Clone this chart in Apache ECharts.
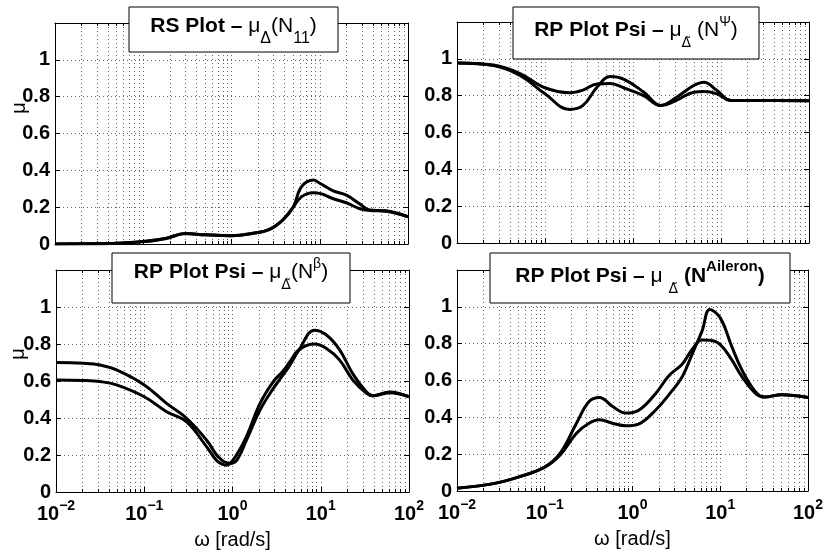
<!DOCTYPE html>
<html><head><meta charset="utf-8">
<script src="https://cdn.jsdelivr.net/npm/echarts@6/dist/echarts.min.js"></script>
<style>html,body{margin:0;padding:0;background:#fff}#c{width:826px;height:556px}</style>
</head><body><div id="c"></div>
<script>
// ---- data ----
const yTickValues = [0, 0.2, 0.4, 0.6, 0.8, 1];
const xTickExponents = [-2, -1, 0, 1, 2];

const rsOmega = [0.01,0.03,0.06,0.1,0.18,0.3,0.5,1,1.76,2.7,3.8,5,6.2,8.5,10,14,20,28,37,56,100];
const rsMuA   = [0,0.002,0.006,0.013,0.03,0.057,0.05,0.045,0.058,0.08,0.13,0.2,0.31,0.347,0.33,0.29,0.265,0.22,0.184,0.18,0.148];
const rsMuB   = [0,0.002,0.006,0.013,0.03,0.057,0.05,0.045,0.058,0.08,0.13,0.2,0.256,0.278,0.275,0.247,0.224,0.193,0.182,0.178,0.148];

const psiOmega = [0.01,0.026,0.052,0.1,0.19,0.27,0.39,0.55,0.78,1.32,2.06,3.1,4.9,6.4,9,13,28,100];
const psiMuA   = [0.978,0.964,0.91,0.81,0.725,0.747,0.846,0.904,0.89,0.82,0.747,0.79,0.855,0.873,0.828,0.774,0.774,0.772];
const psiMuB   = [0.978,0.966,0.92,0.843,0.816,0.83,0.864,0.866,0.843,0.80,0.747,0.774,0.819,0.823,0.81,0.774,0.774,0.772];

const betaOmega = [0.01,0.0204,0.0315,0.0485,0.1,0.179,0.3,0.51,0.66,0.77,0.84,0.93,1.11,1.44,2.05,2.9,3.7,4.4,5.7,8.5,11.5,16.3,23,33,39,60,100];
const betaMuA   = [0.70,0.696,0.687,0.66,0.579,0.479,0.40,0.28,0.20,0.17,0.16,0.155,0.17,0.28,0.443,0.56,0.63,0.68,0.77,0.875,0.85,0.77,0.64,0.54,0.52,0.537,0.515];
const betaMuB   = [0.606,0.603,0.597,0.579,0.515,0.434,0.38,0.244,0.17,0.15,0.145,0.152,0.2,0.30,0.479,0.597,0.651,0.70,0.77,0.80,0.777,0.714,0.606,0.533,0.52,0.54,0.515];

const ailOmega = [0.01,0.026,0.052,0.1,0.15,0.23,0.32,0.42,0.59,0.84,1.19,1.84,2.6,3.7,4.8,6.2,7.6,10,13.5,17.6,25,32,50,100];
const ailMuA   = [0.015,0.04,0.078,0.13,0.205,0.368,0.486,0.508,0.46,0.423,0.44,0.53,0.626,0.69,0.77,0.82,0.818,0.795,0.713,0.622,0.532,0.51,0.523,0.508];
const ailMuB   = [0.015,0.04,0.078,0.13,0.196,0.314,0.368,0.387,0.368,0.354,0.365,0.44,0.523,0.622,0.745,0.868,0.985,0.94,0.786,0.659,0.541,0.51,0.523,0.508];

const panels = [
  {omega: rsOmega, a: rsMuA, b: rsMuB},
  {omega: psiOmega, a: psiMuA, b: psiMuB},
  {omega: betaOmega, a: betaMuA, b: betaMuB},
  {omega: ailOmega, a: ailMuA, b: ailMuB}
];

// ---- layout / style ----
const FONT = '"Liberation Sans", Arial, Helvetica, sans-serif';
const grids = [
  {left: 55, top: 23, width: 353, height: 221},
  {left: 457, top: 22, width: 352, height: 221},
  {left: 56, top: 270, width: 353, height: 222},
  {left: 457, top: 270, width: 353, height: 221}
];
const dotted = {color: '#666', type: [1, 3], width: 1};
const blackLine = {color: '#000', width: 1};

const xAxes = [], yAxes = [], series = [];
grids.forEach((g, i) => {
  const showX = i >= 2;
  xAxes.push({
    type: 'log', logBase: 10, min: 0.01, max: 100, gridIndex: i, position: 'bottom',
    axisLine: {show: true, onZero: false, lineStyle: blackLine},
    axisTick: {show: true, inside: true, length: 5, lineStyle: blackLine},
    minorTick: {show: true, splitNumber: 9, length: 3, lineStyle: blackLine},
    splitLine: {show: true, lineStyle: dotted},
    minorSplitLine: {show: true, lineStyle: dotted},
    axisLabel: {
      show: showX, margin: 7, color: '#000',
      formatter: v => {
        const e = Math.round(Math.log10(v));
        if (xTickExponents.indexOf(e) < 0) return '';
        return '{b|10}{s|' + (e < 0 ? '\u2212' + (-e) : e) + '}';
      },
      rich: {
        b: {fontSize: 20, fontWeight: 'bold', fontFamily: FONT, color: '#000', verticalAlign: 'middle'},
        s: {fontSize: 14, fontWeight: 'bold', fontFamily: FONT, color: '#000', padding: [0, 0, 16, 0], verticalAlign: 'middle'}
      }
    },
    name: showX ? '\u03c9 [rad/s]' : '', nameLocation: 'middle', nameGap: 38,
    nameTextStyle: {fontSize: 20, fontFamily: FONT, color: '#000'}
  });
  yAxes.push({
    type: 'value', min: 0, max: 1.2, interval: 0.2, gridIndex: i, position: 'left',
    axisLine: {show: true, onZero: false, lineStyle: blackLine},
    axisTick: {show: true, inside: true, length: 5, lineStyle: blackLine},
    splitLine: {show: true, lineStyle: dotted},
    axisLabel: {
      show: true, margin: 5, color: '#000', fontSize: 20, fontWeight: 'bold', fontFamily: FONT,
      formatter: v => {
        const r = Math.round(v * 10) / 10;
        return yTickValues.some(t => Math.abs(t - r) < 1e-6) ? String(r) : '';
      }
    }
  });
  series.push(...['a', 'b'].map(k => ({
    type: 'line', xAxisIndex: i, yAxisIndex: i, showSymbol: false, smooth: 0.4,
    data: panels[i].omega.map((w, j) => [w, panels[i][k][j]]),
    lineStyle: {color: '#000', width: 3}, itemStyle: {color: '#000'}, z: 5
  })));
});
grids.forEach((g, i) => {
  xAxes.push({
    type: 'log', logBase: 10, min: 0.01, max: 100, gridIndex: i, position: 'top',
    axisLine: {show: true, onZero: false, lineStyle: blackLine},
    axisTick: {show: true, inside: true, length: 5, lineStyle: blackLine},
    minorTick: {show: true, splitNumber: 9, length: 3, lineStyle: blackLine},
    splitLine: {show: false}, axisLabel: {show: false}
  });
  yAxes.push({
    type: 'value', min: 0, max: 1.2, interval: 0.2, gridIndex: i, position: 'right',
    axisLine: {show: true, onZero: false, lineStyle: blackLine},
    axisTick: {show: true, inside: true, length: 5, lineStyle: blackLine},
    splitLine: {show: false}, axisLabel: {show: false}
  });
});

const SUBFONT = '"DejaVu Sans", "Liberation Sans", sans-serif';
const titleRich = {
  b:   {fontSize: 21, fontWeight: 'bold', fontFamily: FONT, color: '#000', verticalAlign: 'middle'},
  r:   {fontSize: 21, fontFamily: FONT, color: '#000', verticalAlign: 'middle'},
  sub: {fontSize: 16, fontFamily: FONT, color: '#000', padding: [26, 0, 0, 0], verticalAlign: 'middle'},
  subt:{fontSize: 14, fontFamily: SUBFONT, color: '#000', padding: [26, 0, 0, 0], verticalAlign: 'middle'},
  sup: {fontSize: 14, fontFamily: FONT, color: '#000', padding: [0, 0, 16, 0], verticalAlign: 'middle'},
  bsup:{fontSize: 15, fontWeight: 'bold', fontFamily: FONT, color: '#000', padding: [0, 0, 18, 0], verticalAlign: 'middle'}
};
const titles = [
  {x: 129, y: 7, w: 209, h: 45, cy: 26, text: '{b|RS Plot \u2013 }{r|\u03bc}{sub|\u0394}{r|(N}{sub|11}{r|)}'},
  {x: 513, y: 7, w: 246, h: 52, cy: 30.5, text: '{b|RP Plot Psi \u2013 }{r|\u03bc}{subt|\u0394\u0303}{r| (N}{sup|\u03a8}{r|)}'},
  {x: 112, y: 253, w: 238, h: 50, cy: 272, text: '{b|RP Plot Psi \u2013 }{r|\u03bc}{subt|\u0394\u0303}{r|(N}{sup|\u03b2}{r|)}'},
  {x: 490, y: 253, w: 300, h: 50, cy: 276, text: '{b|RP Plot Psi \u2013 }{r|\u03bc }{subt|\u0394\u0303}{b| (N}{bsup|Aileron}{b|)}'}
];
const graphic = [];
titles.forEach(t => {
  graphic.push({type: 'rect', z: 100, shape: {x: t.x, y: t.y, width: t.w, height: t.h},
    style: {fill: '#fff', stroke: '#000', lineWidth: 1}});
  graphic.push({type: 'text', z: 101, x: t.x + t.w / 2, y: t.cy,
    style: {text: t.text, rich: titleRich, align: 'center', verticalAlign: 'middle', fill: '#000'}});
});
[[19, 108], [18, 354]].forEach(p => {
  graphic.push({type: 'text', z: 101, x: p[0], y: p[1], rotation: Math.PI / 2,
    style: {text: '\u03bc', fontSize: 20, fontFamily: FONT, fill: '#000', align: 'center', verticalAlign: 'middle'}});
});

const chart = echarts.init(document.getElementById('c'), null, {renderer: 'canvas'});
chart.setOption({
  animation: false,
  backgroundColor: '#fff',
  grid: grids,
  xAxis: xAxes,
  yAxis: yAxes,
  series: series,
  graphic: graphic
});
</script></body></html>
